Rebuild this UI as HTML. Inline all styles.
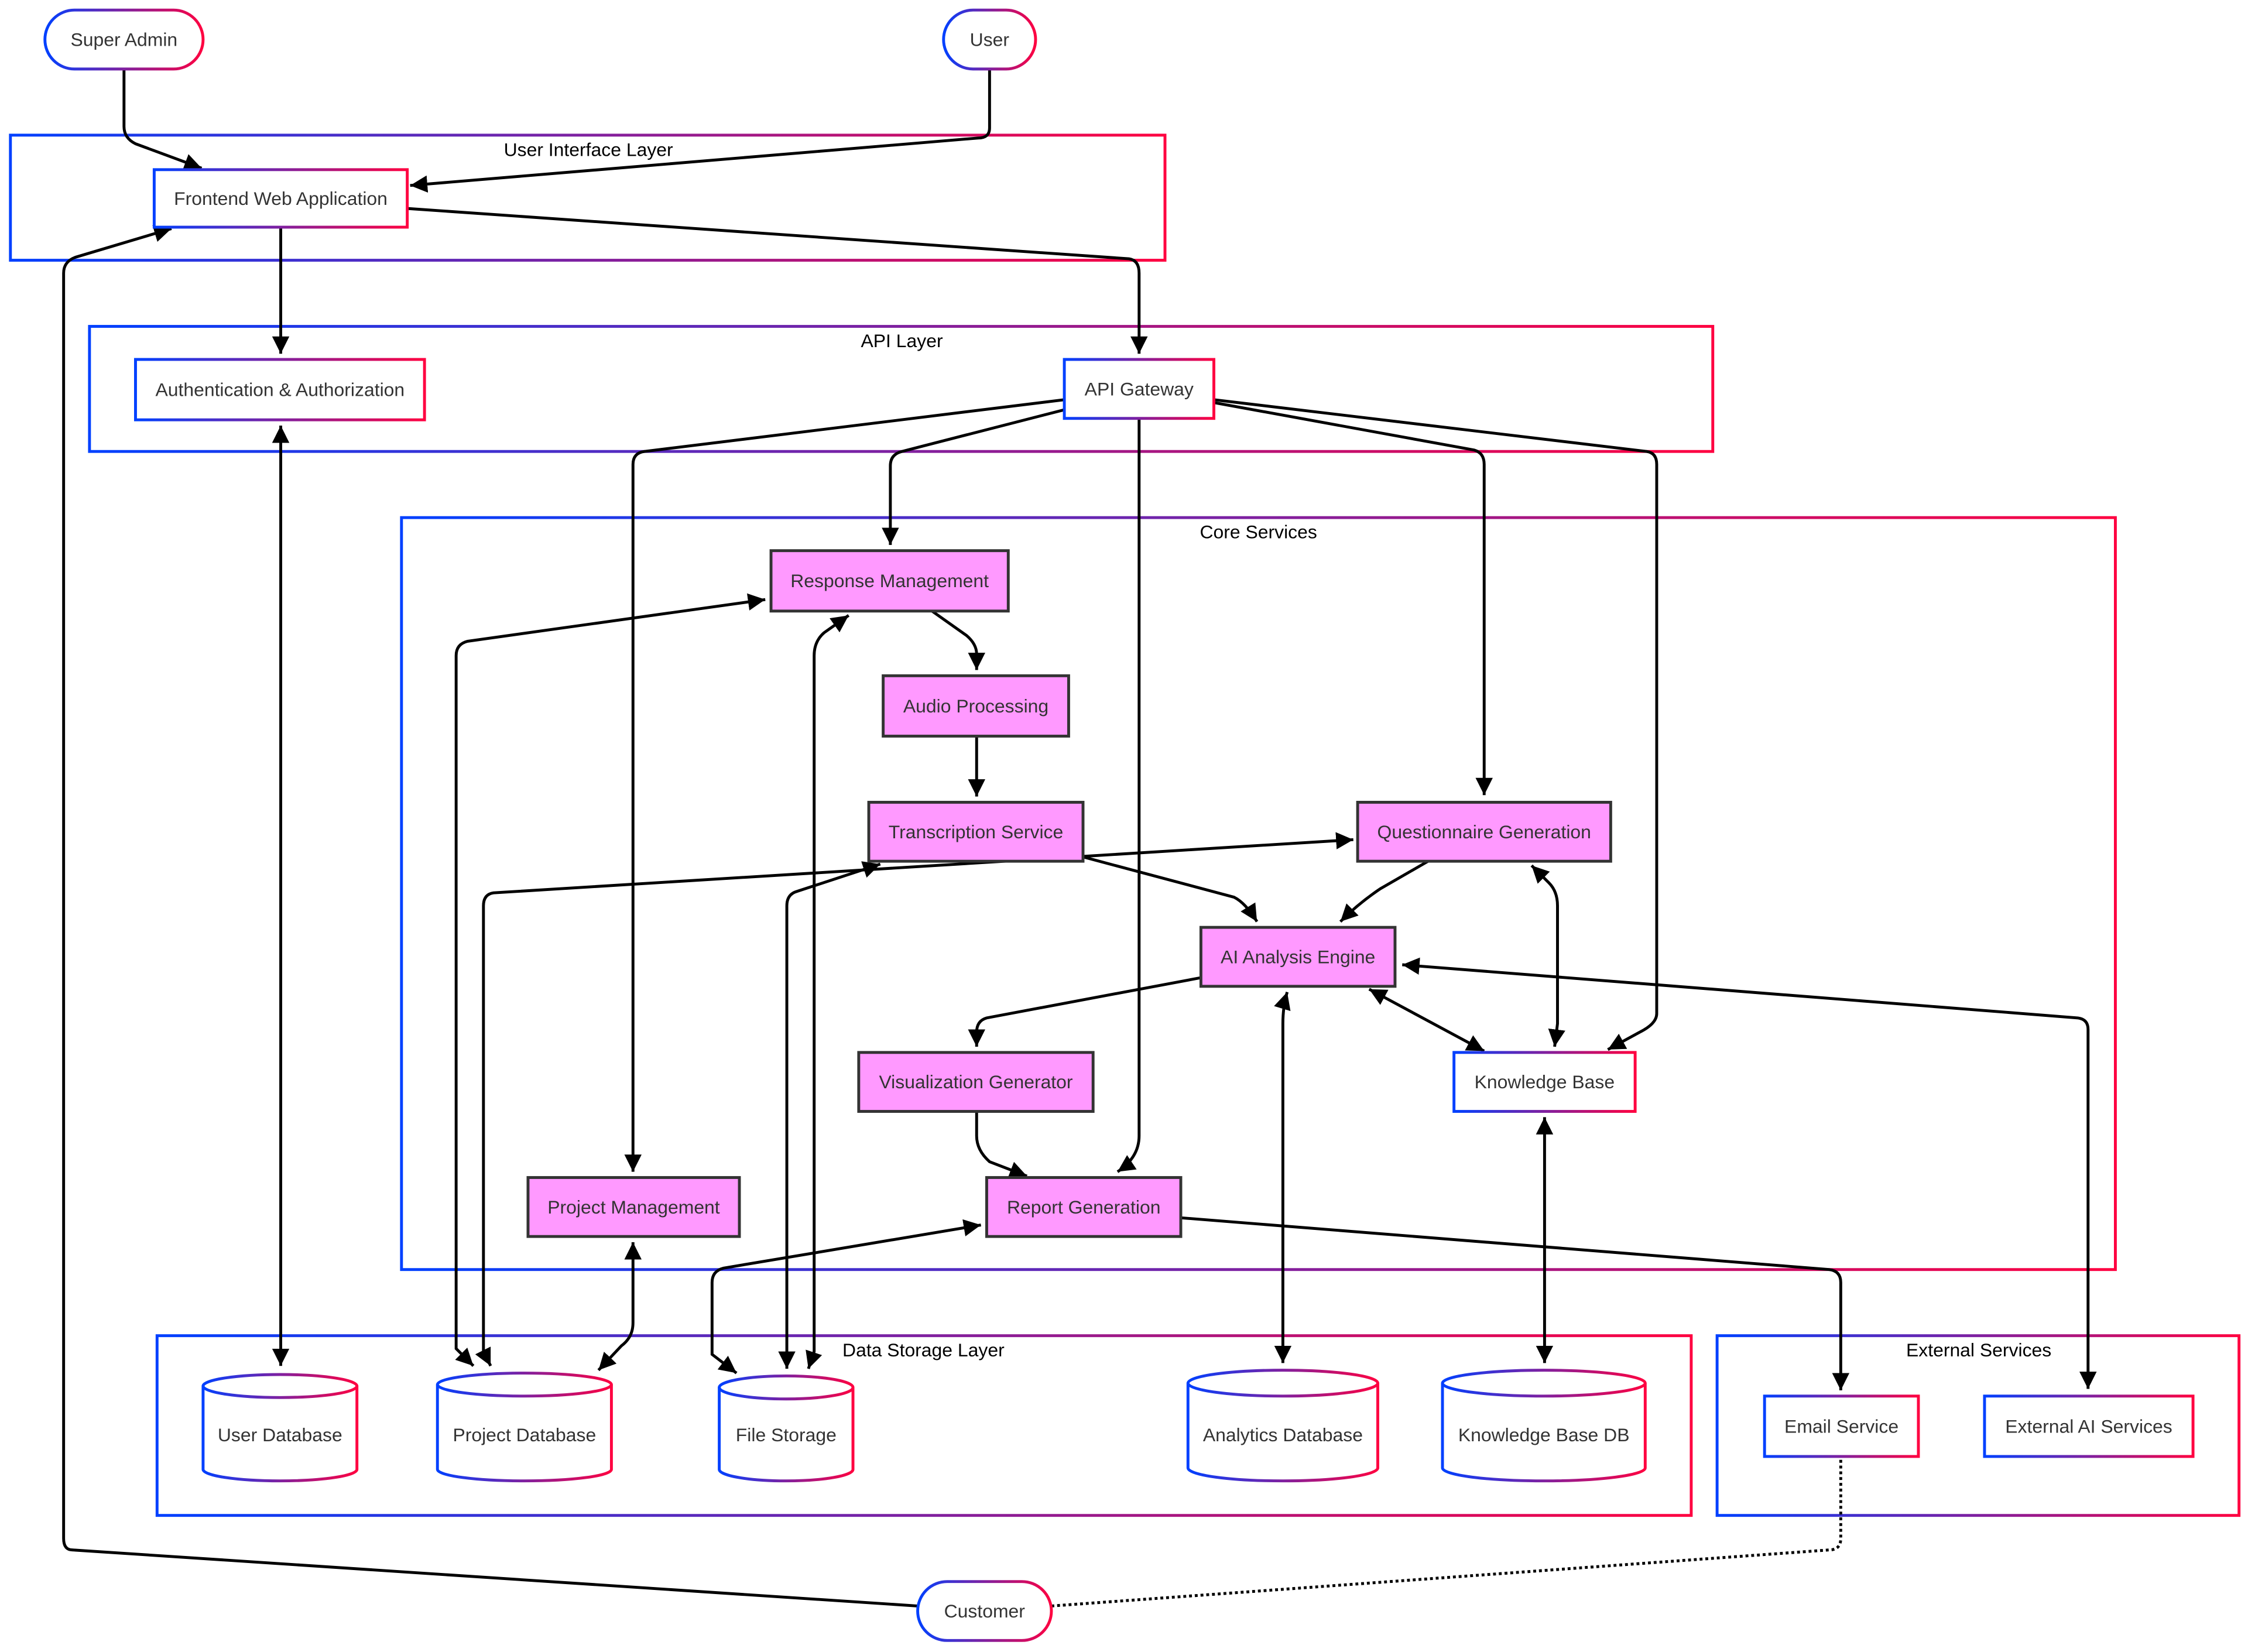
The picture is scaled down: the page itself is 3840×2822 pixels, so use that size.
<!DOCTYPE html>
<html><head><meta charset="utf-8"><style>
html,body{margin:0;padding:0;background:#fff;}
svg{display:block;}
text{font-family:"Liberation Sans",Arial,sans-serif;font-size:13px;fill:#333;text-anchor:middle;dominant-baseline:central;}
.lbl{fill:#000;}
.e{fill:none;stroke:#000;stroke-width:2;}
.p{fill:#ff99ff;stroke:#333;stroke-width:2;}
.g{fill:#fff;stroke:url(#gr);stroke-width:2;}
.c{fill:none;stroke:url(#gr);stroke-width:2;}
</style></head><body>
<svg width="3840" height="2822" viewBox="0 0 1563 1149" xmlns="http://www.w3.org/2000/svg">
<defs>
<linearGradient id="gr" x1="0" y1="0" x2="1" y2="0"><stop offset="0" stop-color="#0040ff"/><stop offset="1" stop-color="#ff0040"/></linearGradient>
<marker id="a" markerUnits="userSpaceOnUse" markerWidth="12" markerHeight="12" refX="10" refY="5" viewBox="0 0 10 10" orient="auto-start-reverse"><path d="M0,0 L10,5 L0,10 z" fill="#000"/></marker>
</defs>

<!-- groups -->
<rect x="7" y="94" width="803" height="87" class="g"/><text x="409" y="104" class="lbl">User Interface Layer</text>
<rect x="62" y="227" width="1129" height="87" class="g"/><text x="627" y="237" class="lbl">API Layer</text>
<rect x="279" y="360" width="1192" height="523" class="g"/><text x="875" y="370" class="lbl">Core Services</text>
<rect x="109" y="929" width="1067" height="125" class="g"/><text x="642" y="939" class="lbl">Data Storage Layer</text>
<rect x="1194" y="929" width="363" height="125" class="g"/><text x="1376" y="939" class="lbl">External Services</text>

<!-- edges -->
<path class="e" marker-end="url(#a)" d="M86,48 L86,88 Q86,96 94,100 L140,117"/>
<path class="e" marker-end="url(#a)" d="M688,48 L688,89 Q688,96 680,96 L285,129"/>
<path class="e" marker-end="url(#a)" d="M195,158 L195,246"/>
<path class="e" marker-end="url(#a)" d="M283,145 L785,180 Q792,181 792,190 L792,246"/>
<path class="e" marker-end="url(#a)" d="M638,1117 L50,1078 Q44,1078 44,1070 L44,190 Q44,182 52,179 L119,159"/>
<path class="e" style="stroke-dasharray:2,2" d="M731,1117 L1272,1078 Q1280,1078 1280,1070 L1280,1013"/>
<path class="e" marker-end="url(#a)" d="M740,278 L448,314 Q440,315 440,323 L440,815"/>
<path class="e" marker-end="url(#a)" d="M740,285 L627,314 Q619,316 619,324 L619,379"/>
<path class="e" marker-end="url(#a)" d="M792,291 L792,790 Q792,805 777,815"/>
<path class="e" marker-end="url(#a)" d="M844,280 L1025,313 Q1032,315 1032,323 L1032,553"/>
<path class="e" marker-end="url(#a)" d="M844,278 L1145,314 Q1152,315 1152,323 L1152,705 Q1152,712 1140,718 L1118,730"/>
<path class="e" marker-start="url(#a)" marker-end="url(#a)" d="M195,296 L195,950"/>
<path class="e" marker-end="url(#a)" d="M648,425 L672,442 Q679,448 679,455 L679,466"/>
<path class="e" marker-end="url(#a)" d="M679,512 L679,554"/>
<path class="e" marker-end="url(#a)" d="M753,596 L858,624 Q866,628 874,641"/>
<path class="e" marker-end="url(#a)" d="M993,599 L960,618 Q945,628 932,641"/>
<path class="e" marker-start="url(#a)" marker-end="url(#a)" d="M941,584 L343,621 Q336,622 336,630 L336,940 L341,950"/>
<path class="e" marker-start="url(#a)" marker-end="url(#a)" d="M532,417 L325,446 Q317,448 317,456 L317,938 L329,950"/>
<path class="e" marker-start="url(#a)" marker-end="url(#a)" d="M590,428 L573,440 Q566,446 566,456 L566,940 L562,952"/>
<path class="e" marker-start="url(#a)" marker-end="url(#a)" d="M612,601 L554,620 Q547,622 547,630 L547,952"/>
<path class="e" marker-start="url(#a)" marker-end="url(#a)" d="M1065,602 L1077,614 Q1083,620 1083,630 L1083,712 L1081,728"/>
<path class="e" marker-end="url(#a)" d="M835,680 L686,708 Q679,710 679,718 L679,728"/>
<path class="e" marker-start="url(#a)" marker-end="url(#a)" d="M895,690 Q892,700 892,712 L892,948"/>
<path class="e" marker-start="url(#a)" marker-end="url(#a)" d="M952,688 L1032,731"/>
<path class="e" marker-start="url(#a)" marker-end="url(#a)" d="M975,671 L1445,708 Q1452,709 1452,716 L1452,966"/>
<path class="e" marker-end="url(#a)" d="M679,773 L679,790 Q679,800 688,808 L714,818"/>
<path class="e" marker-start="url(#a)" marker-end="url(#a)" d="M440,864 L440,920 Q440,930 432,936 L416,953"/>
<path class="e" marker-start="url(#a)" marker-end="url(#a)" d="M682,852 L503,882 Q495,884 495,892 L495,942 L512,955"/>
<path class="e" marker-end="url(#a)" d="M821,847 L1272,883 Q1280,884 1280,892 L1280,967"/>
<path class="e" marker-start="url(#a)" marker-end="url(#a)" d="M1074,777 L1074,948"/>

<!-- nodes -->
<rect x="31" y="7" width="110" height="41" rx="20.5" class="g"/><text x="86" y="27.5">Super Admin</text>
<rect x="656" y="7" width="64" height="41" rx="20.5" class="g"/><text x="688" y="27.5">User</text>
<rect x="638" y="1100" width="93" height="41" rx="20.5" class="g"/><text x="684.5" y="1120.5">Customer</text>

<rect x="107" y="118" width="176" height="40" class="g"/><text x="195" y="138">Frontend Web Application</text>
<rect x="94" y="250" width="201" height="42" class="g"/><text x="194.5" y="271">Authentication &amp; Authorization</text>
<rect x="740" y="250" width="104" height="41" class="g"/><text x="792" y="270.5">API Gateway</text>

<rect x="536" y="383" width="165" height="42" class="p"/><text x="618.5" y="404">Response Management</text>
<rect x="614" y="470" width="129" height="42" class="p"/><text x="678.5" y="491">Audio Processing</text>
<rect x="604" y="558" width="149" height="41" class="p"/><text x="678.5" y="578.5">Transcription Service</text>
<rect x="944" y="558" width="176" height="41" class="p"/><text x="1032" y="578.5">Questionnaire Generation</text>
<rect x="835" y="645" width="135" height="41" class="p"/><text x="902.5" y="665.5">AI Analysis Engine</text>
<rect x="597" y="732" width="163" height="41" class="p"/><text x="678.5" y="752.5">Visualization Generator</text>
<rect x="1011" y="732" width="126" height="41" class="g"/><text x="1074" y="752.5">Knowledge Base</text>
<rect x="367" y="819" width="147" height="41" class="p"/><text x="440.5" y="839.5">Project Management</text>
<rect x="686" y="819" width="135" height="41" class="p"/><text x="753.5" y="839.5">Report Generation</text>

<rect x="1227" y="971" width="107" height="42" class="g"/><text x="1280.5" y="992">Email Service</text>
<rect x="1380" y="971" width="145" height="42" class="g"/><text x="1452.5" y="992">External AI Services</text>

<!-- cylinders -->
<g>
<path class="g" d="M141,964 A53.5,8 0 0 1 248,964 L248,1022 A53.5,8 0 0 1 141,1022 Z"/><path class="c" d="M141,964 A53.5,8 0 0 0 248,964"/><text x="194.5" y="998">User Database</text>
<path class="g" d="M304,963 A60.5,8 0 0 1 425,963 L425,1022 A60.5,8 0 0 1 304,1022 Z"/><path class="c" d="M304,963 A60.5,8 0 0 0 425,963"/><text x="364.5" y="998">Project Database</text>
<path class="g" d="M500,965 A46.5,8 0 0 1 593,965 L593,1022 A46.5,8 0 0 1 500,1022 Z"/><path class="c" d="M500,965 A46.5,8 0 0 0 593,965"/><text x="546.5" y="998">File Storage</text>
<path class="g" d="M826,962 A66,9 0 0 1 958,962 L958,1021 A66,9 0 0 1 826,1021 Z"/><path class="c" d="M826,962 A66,9 0 0 0 958,962"/><text x="892" y="998">Analytics Database</text>
<path class="g" d="M1003,962 A70.5,9 0 0 1 1144,962 L1144,1021 A70.5,9 0 0 1 1003,1021 Z"/><path class="c" d="M1003,962 A70.5,9 0 0 0 1144,962"/><text x="1073.5" y="998">Knowledge Base DB</text>
</g>
</svg>
</body></html>
